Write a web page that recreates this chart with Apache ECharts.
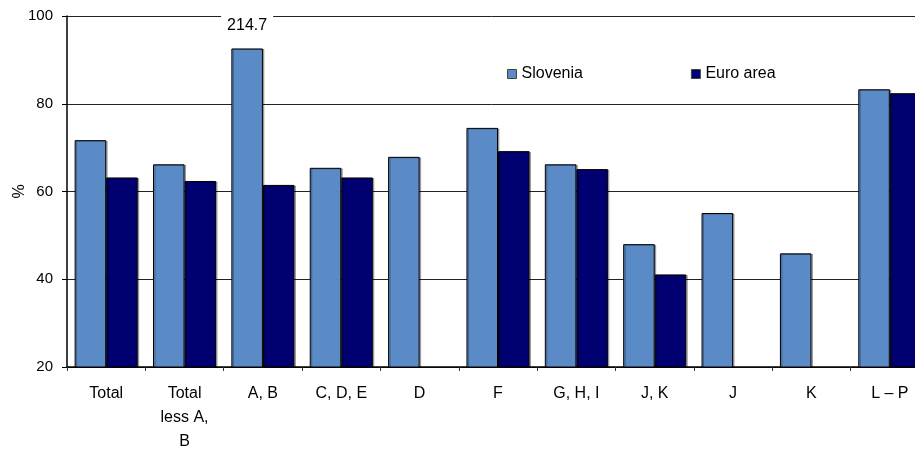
<!DOCTYPE html>
<html>
<head>
<meta charset="utf-8">
<script src="https://cdn.jsdelivr.net/npm/echarts@6/dist/echarts.min.js"></script>
<style>
  html, body { margin: 0; padding: 0; background: #fff; }
  #chart { width: 915px; height: 450px; }
</style>
</head>
<body>
<div id="chart"></div>
<script>
// Sector labels (line breaks as printed under the axis)
const categories = ['Total', 'Total\nless A,\nB', 'A, B', 'C, D, E', 'D', 'F', 'G, H, I', 'J, K', 'J', 'K', 'L \u2013 P'];
// Shares in %, by sector ('-' = no euro area figure)
const slovenia = [71.7, 66.2, 214.7, 65.4, 67.9, 74.5, 66.2, 48.0, 55.1, 45.9, 83.3];
const euroArea = [63.2, 62.4, 61.5, 63.2, '-', 69.2, 65.1, 41.1, '-', '-', 82.4];
// Value axis ticks
const yTicks = [20, 40, 60, 80, 100];

// Bars taller than the axis are cut at this level and labelled with their value
const AXIS_BREAK = 92.6;

const FONT = '"Liberation Sans", Arial, sans-serif';
const barStyle = (color) => ({
  color: color,
  borderColor: '#000',
  borderWidth: 1,
  shadowColor: 'rgba(0,0,0,0.3)',
  shadowOffsetX: 1.5,
  shadowOffsetY: 0.5,
  shadowBlur: 0
});

const sloveniaData = slovenia.map(v => v > AXIS_BREAK ? {
  value: AXIS_BREAK,
  label: {
    show: true,
    position: 'top',
    distance: 13,
    formatter: String(v),
    fontFamily: FONT,
    fontSize: 16,
    color: '#000',
    backgroundColor: '#fff',
    padding: [2, 6]
  }
} : v);

const chart = echarts.init(document.getElementById('chart'), null, { renderer: 'canvas' });
chart.setOption({
  animation: false,
  backgroundColor: '#fff',
  textStyle: { fontFamily: FONT },
  grid: { left: 67, top: 16, bottom: 83, right: -14, containLabel: false, outerBoundsMode: 'none' },
  legend: {
    left: 502,
    top: 61,
    itemWidth: 9,
    itemHeight: 9,
    itemGap: 108,
    icon: 'rect',
    textStyle: { fontFamily: FONT, fontSize: 16, color: '#000' },
    data: [
      { name: 'Slovenia', itemStyle: { borderColor: '#444', borderWidth: 1 } },
      { name: 'Euro area', itemStyle: { borderColor: '#444', borderWidth: 1 } }
    ]
  },
  xAxis: {
    type: 'category',
    data: categories,
    axisLine: { lineStyle: { color: '#000', width: 1.5 } },
    axisTick: { show: true, length: 4, lineStyle: { color: '#333' } },
    axisLabel: {
      interval: 0,
      margin: 15,
      fontFamily: FONT,
      fontSize: 16,
      lineHeight: 24,
      color: '#000'
    }
  },
  yAxis: {
    type: 'value',
    min: yTicks[0],
    max: yTicks[yTicks.length - 1],
    interval: yTicks[1] - yTicks[0],
    name: '%',
    nameLocation: 'middle',
    nameRotate: 90,
    nameGap: 39,
    nameMoveOverlap: false,
    nameTextStyle: { fontFamily: FONT, fontSize: 16, color: '#000' },
    axisLine: { show: true, lineStyle: { color: '#000', width: 1.5 } },
    axisTick: { show: true, length: 5, lineStyle: { color: '#000' } },
    axisLabel: { margin: 14, fontFamily: FONT, fontSize: 15, color: '#000' },
    splitLine: { show: true, lineStyle: { color: '#222', width: 1 } }
  },
  series: [
    {
      name: 'Slovenia',
      type: 'bar',
      data: sloveniaData,
      barGap: '0%',
      barCategoryGap: '19.5%',
      itemStyle: barStyle('#5b8bc7')
    },
    {
      name: 'Euro area',
      type: 'bar',
      data: euroArea,
      itemStyle: barStyle('#000070')
    }
  ]
});
</script>
</body>
</html>
